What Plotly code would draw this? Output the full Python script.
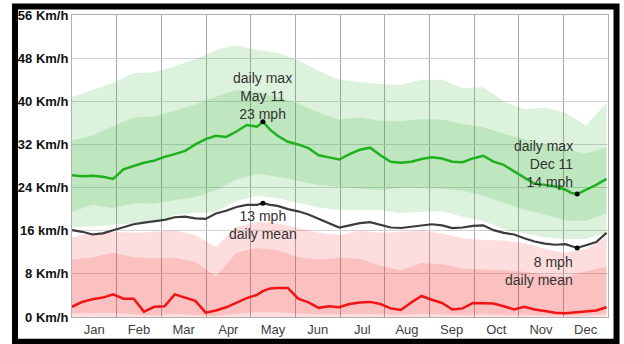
import plotly.graph_objects as go

# day of year (0 = Jan 1) for the three daily lines
line_days = [0, 7, 14, 21, 28, 35, 42, 49, 56, 63, 70, 77, 84, 91, 98, 105, 112, 119, 126, 130,
             135, 140, 147, 154, 161, 168, 175, 182, 189, 196, 203, 210, 217, 224, 231, 238, 245,
             252, 259, 266, 273, 280, 287, 294, 301, 308, 315, 322, 329, 336, 340, 344, 350, 357, 364]

max_line = [26.3, 26.1, 26.2, 26.0, 25.6, 27.4, 28.0, 28.6, 29.0, 29.7, 30.2, 30.8, 32.0, 33.0,
            33.6, 33.4, 34.4, 35.6, 35.3, 36.2, 34.7, 33.6, 32.5, 32.0, 31.3, 30.0, 29.6, 29.2,
            30.2, 31.0, 31.4, 30.0, 28.8, 28.6, 28.8, 29.3, 29.6, 29.4, 28.8, 28.7, 29.4, 29.9,
            28.8, 28.2, 27.0, 25.8, 24.7, 24.5, 24.2, 23.6, 23.0, 22.8, 23.6, 24.5, 25.6]

mean_line = [16.1, 15.8, 15.3, 15.5, 16.1, 16.6, 17.2, 17.5, 17.7, 18.0, 18.5, 18.6, 18.3, 18.2,
             19.2, 19.7, 20.4, 20.8, 20.8, 21.1, 20.8, 20.6, 20.0, 19.6, 19.0, 18.2, 17.4, 16.6,
             17.0, 17.4, 17.6, 17.1, 16.6, 16.5, 16.7, 17.0, 17.2, 17.0, 16.5, 16.6, 16.9, 17.0,
             16.1, 15.6, 15.3, 14.6, 14.0, 13.6, 13.4, 13.5, 13.1, 12.8, 13.3, 13.9, 15.6]

min_line = [1.9, 2.8, 3.3, 3.6, 4.2, 3.4, 3.4, 1.0, 1.9, 2.0, 4.2, 3.6, 3.0, 0.8, 1.2, 1.8, 2.7,
            3.5, 4.1, 4.8, 5.3, 5.4, 5.4, 3.4, 2.7, 1.7, 2.0, 1.8, 2.4, 2.7, 2.8, 2.4, 1.6, 1.3,
            2.7, 3.9, 3.2, 2.6, 1.4, 1.6, 2.6, 2.6, 2.5, 2.0, 1.4, 1.9, 1.4, 1.1, 0.8, 0.7, 0.8,
            0.9, 1.0, 1.2, 1.8]

# percentile bands, every two weeks
band_days = [0, 14, 28, 42, 56, 70, 84, 98, 112, 126, 140, 154, 168, 182, 196, 210, 224, 238,
             252, 266, 280, 294, 308, 322, 336, 350, 364]

max_p90 = [40.8, 42.1, 43.4, 45.2, 45.4, 46.5, 47.8, 49.5, 50.4, 49.5, 49.0, 47.6, 45.6, 44.0,
           43.6, 43.2, 43.0, 44.0, 44.0, 42.4, 42.6, 40.0, 38.5, 38.8, 37.9, 35.5, 39.7]
max_p75 = [32.8, 33.6, 35.4, 37.0, 37.2, 38.3, 39.4, 40.9, 42.1, 41.7, 40.8, 39.6, 37.9, 36.6,
           37.0, 36.4, 36.3, 36.7, 36.6, 35.8, 35.2, 34.0, 32.9, 32.0, 31.0, 30.3, 31.5]
max_p25 = [19.5, 20.8, 20.2, 21.1, 21.0, 21.7, 22.2, 23.5, 25.5, 26.5, 26.0, 25.2, 24.5, 24.1,
           23.8, 23.5, 24.0, 23.9, 23.8, 23.4, 22.5, 21.2, 19.9, 19.0, 17.9, 17.8, 19.3]
max_p10 = [16.7, 16.8, 17.1, 17.4, 17.6, 18.9, 19.3, 19.5, 21.5, 22.5, 22.0, 21.2, 20.3, 19.8,
           19.9, 19.8, 19.3, 19.5, 19.6, 18.6, 17.8, 16.3, 15.5, 14.8, 14.4, 14.5, 15.6]

min_p90 = [14.8, 15.6, 15.8, 15.6, 15.8, 16.1, 15.2, 13.0, 16.7, 17.6, 17.4, 16.5, 15.6, 15.2,
           16.0, 15.6, 15.8, 16.0, 15.5, 14.6, 14.3, 14.2, 13.7, 12.6, 11.9, 12.6, 14.8]
min_p75 = [10.6, 11.1, 11.9, 11.1, 10.9, 11.0, 10.2, 7.5, 11.9, 12.8, 12.4, 11.1, 10.6, 11.0,
           10.8, 9.5, 8.6, 10.0, 9.8, 9.0, 8.8, 8.7, 8.4, 7.8, 7.4, 8.5, 9.3]
min_p25 = [0.7, 0.8, 0.8, 0.5, 0.3, 0.6, 0.4, 0.2, 0.6, 0.9, 0.9, 0.7, 0.5, 0.5,
           0.6, 0.5, 0.4, 0.6, 0.5, 0.4, 0.5, 0.5, 0.4, 0.3, 0.3, 0.3, 0.5]
min_p10 = [0.0] * len(band_days)

months = ['Jan', 'Feb', 'Mar', 'Apr', 'May', 'Jun', 'Jul', 'Aug', 'Sep', 'Oct', 'Nov', 'Dec']
y_ticks = [0, 8, 16, 24, 32, 40, 48, 56]
y_labels = ['0 Km/h', '8 Km/h', '16 km/h', '24 Km/h', '32 Km/h', '40 Km/h', '48 Km/h', '56 Km/h']

# days that carry a callout
peak_day, low_day = 130, 344

GREEN_BAND = 'rgba(45,180,45,0.17)'
RED_BAND = 'rgba(240,45,45,0.16)'


def band(fig, days, lo, hi, color):
    fig.add_trace(go.Scatter(x=days, y=lo, mode='lines', line=dict(width=0),
                             hoverinfo='skip', showlegend=False))
    fig.add_trace(go.Scatter(x=days, y=hi, mode='lines', line=dict(width=0),
                             fill='tonexty', fillcolor=color, hoverinfo='skip', showlegend=False))


fig = go.Figure()
band(fig, band_days, max_p10, max_p90, GREEN_BAND)
band(fig, band_days, max_p25, max_p75, GREEN_BAND)
band(fig, band_days, min_p10, min_p90, RED_BAND)
band(fig, band_days, min_p25, min_p75, RED_BAND)

fig.add_trace(go.Scatter(x=line_days, y=max_line, mode='lines',
                         line=dict(color='#1fb01f', width=2.5), showlegend=False))
fig.add_trace(go.Scatter(x=line_days, y=mean_line, mode='lines',
                         line=dict(color='#3c3c3c', width=2.2), showlegend=False))
fig.add_trace(go.Scatter(x=line_days, y=min_line, mode='lines',
                         line=dict(color='#f01414', width=2.5), showlegend=False))

i_peak, i_low = line_days.index(peak_day), line_days.index(low_day)
dot_x = [peak_day, peak_day, low_day, low_day]
dot_y = [max_line[i_peak], mean_line[i_peak], max_line[i_low], mean_line[i_low]]
fig.add_trace(go.Scatter(x=dot_x, y=dot_y, mode='markers',
                         marker=dict(color='black', size=5), showlegend=False))

note_font = dict(family='Liberation Sans, Arial', size=14, color='#333333')
fig.add_annotation(x=peak_day, y=max_line[i_peak], text='daily max<br>May 11<br>23 mph',
                   showarrow=False, xanchor='center', yanchor='bottom', yshift=-2,
                   font=note_font, align='center')
fig.add_annotation(x=peak_day, y=mean_line[i_peak], text='13 mph<br>daily mean',
                   showarrow=False, xanchor='center', yanchor='top', yshift=-3,
                   font=note_font, align='center')
fig.add_annotation(x=low_day, y=max_line[i_low], text='daily max<br>Dec 11<br>14 mph',
                   showarrow=False, xanchor='right', yanchor='bottom', xshift=-2, yshift=2,
                   font=note_font, align='right')
fig.add_annotation(x=low_day, y=mean_line[i_low], text='8 mph<br>daily mean',
                   showarrow=False, xanchor='right', yanchor='top', xshift=-2, yshift=-4,
                   font=note_font, align='right')

month_len = 365 / 12
fig.update_xaxes(
    range=[0, 365],
    tickmode='array',
    tickvals=[month_len * (i + 0.5) for i in range(12)],
    ticktext=months,
    showgrid=False,
    ticks='',
    automargin=False,
    tickfont=dict(family='Liberation Sans, Arial', size=13, color='#404040'),
    minor=dict(tickmode='array', tickvals=[month_len * i for i in range(13)],
               showgrid=True, gridcolor='#a8a8a8', gridwidth=1, ticks=''),
    showline=True, linecolor='#b0b0b0', mirror=True, zeroline=False,
)
fig.update_yaxes(
    range=[0, 56],
    tickmode='array',
    tickvals=y_ticks,
    ticktext=y_labels,
    showgrid=True, gridcolor='#d2d2d2', gridwidth=1,
    ticks='', ticklabelstandoff=0,
    automargin=False,
    tickfont=dict(family='Liberation Sans, Arial', size=13, color='#111111', weight='bold'),
    showline=True, linecolor='#b0b0b0', mirror=True, zeroline=False,
)

# thick black frame around the whole picture
fig.add_shape(type='rect', xref='paper', yref='paper',
              x0=-0.1063, x1=1.0159, y0=-0.082, y1=1.028,
              line=dict(color='black', width=6), fillcolor='rgba(0,0,0,0)', layer='above')

fig.update_layout(
    width=624, height=344,
    margin=dict(l=72, r=16, t=15, b=27, autoexpand=False),
    paper_bgcolor='white', plot_bgcolor='white',
    showlegend=False,
    hovermode=False,
)

fig.write_html('out.html', config={'displayModeBar': False},
               post_script="document.body.style.margin='0px';")
